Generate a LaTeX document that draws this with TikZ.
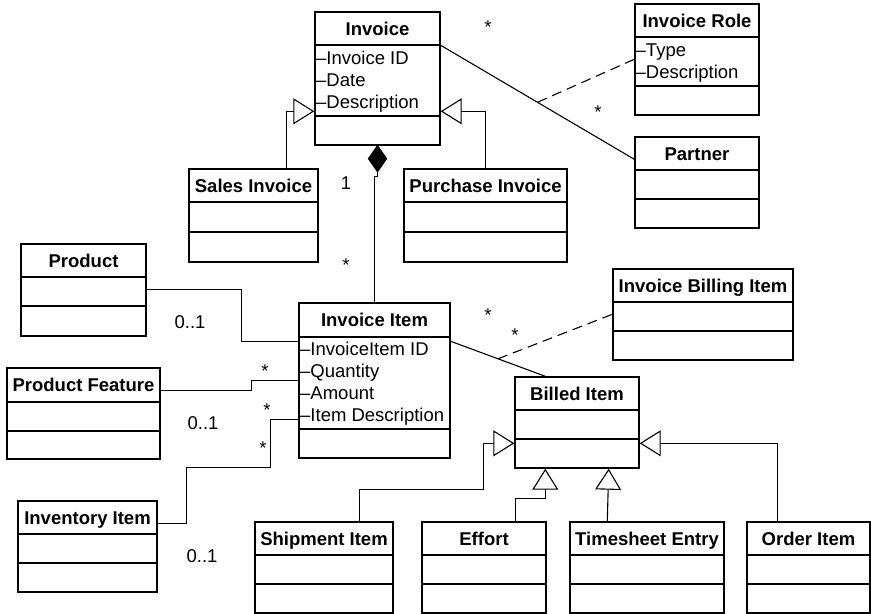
\documentclass[tikz,border=0pt]{standalone}
\usepackage{fontspec}
\setmainfont{Liberation Sans}
\usetikzlibrary{fit,arrows.meta}

\tikzset{
  classbox/.style={draw,line width=0.7pt,inner sep=0pt},
  divider/.style={line width=1pt},
  classname/.style={font=\fontsize{9.25}{11}\selectfont\bfseries,anchor=base,inner sep=0pt},
  attr/.style={anchor=base west,inner sep=0pt},
  mult/.style={inner sep=0pt},
  assoc/.style={line width=0.55pt},
  gen/.style={assoc,-{Triangle[open,length=10.5pt,width=13pt]}},
  classline/.style={assoc,dash pattern=on 5pt off 3pt}
}

\begin{document}
\begin{tikzpicture}[x=0.5pt,y=-0.5pt,font=\fontsize{9.25}{11}\selectfont]
\useasboundingbox (0,0) rectangle (871,614);

% classes: name/left/top/right/bottom/first divider/second divider/title
\foreach \nm/\xa/\ya/\xb/\yb/\da/\db/\ttl in {
  inv/315/12/440/145/45/116/Invoice,
  role/635/4/759/115/37/86/Invoice Role,
  partner/635/137/759/228/170/199/Partner,
  sales/189/169/318/262/202/232/Sales Invoice,
  purch/404/169/567/262/202/232/Purchase Invoice,
  prod/21/244/146/336/277/306/Product,
  feat/7/368/160/459/402/431/Product Feature,
  invent/18/501/157/592/534/563/Inventory Item,
  item/299/303/450/458/337/429/Invoice Item,
  billing/613/269/793/360/302/331/Invoice Billing Item,
  billed/515/377/639/468/410/439/Billed Item,
  ship/255/522/393/613/555/584/Shipment Item,
  effort/422/522/546/613/555/584/Effort,
  times/570/522/724/613/555/584/Timesheet Entry,
  order/747/522/870/613/555/584/Order Item}{
  \node[classbox,fit={(\xa,\ya) (\xb,\yb)}] (\nm) {};
  \draw[divider] (\xa,\da) -- (\xb,\da) (\xa,\db) -- (\xb,\db);
  \node[classname] (\nm-t) at ({(\xa+\xb)/2},{(\ya+\da)/2+6.6}) {\ttl};
}

% attributes
\foreach \txt [count=\i] in {Invoice ID,Date,Description}
  \path (inv.north west) ++(1.5,{53+22*(\i-1)}) node[attr] (inv-a\i) {–\txt};
\foreach \txt [count=\i] in {Type,Description}
  \path (role.north west) ++(1,{53+22*(\i-1)}) node[attr] (role-a\i) {–\txt};
\foreach \txt [count=\i] in {InvoiceItem ID,Quantity,Amount,Item Description}
  \path (item.north west) ++(1.5,{53.5+22*(\i-1)}) node[attr] (item-a\i) {–\txt};

% invoice and its roles
\path (inv.north east) ++(0,34) coordinate (inv-r);
\path (partner.north west) ++(0,23) coordinate (partner-l);
\path (role.north west) ++(0,56) coordinate (role-l);
\draw[assoc] (inv-r) -- coordinate[pos=0.5] (inv-mid) (partner-l);
\draw[classline] (inv-mid) -- (role-l);

% composition
\filldraw[assoc] (inv.south) -- ++(-9,13) -- ++(9,13) coordinate (dia) -- ++(9,-13) -- cycle;
\draw[assoc] (dia) -- ++(0,5) -| (item.north);

% invoice subtypes
\path (inv.north west) ++(0,100) coordinate (inv-w);
\path (inv.north east) ++(0,100) coordinate (inv-e);
\path (sales.north east) ++(-32,0) coordinate (sales-n);
\path (purch.north west) ++(82,0) coordinate (purch-n);
\draw[gen] (sales-n) |- (inv-w);
\draw[gen] (purch-n) |- (inv-e);

% product side
\path (prod.north east) ++(0,46) coordinate (prod-r);
\path (feat.north east) ++(0,23) coordinate (feat-r);
\path (invent.north east) ++(0,23) coordinate (invent-r);
\path (item.north west) ++(0,39) coordinate (item-l1);
\path (item.north west) ++(0,78) coordinate (item-l2);
\path (item.north west) ++(0,117) coordinate (item-l3);
\draw[assoc] (prod-r) -- ++(95,0) |- (item-l1);
\draw[assoc] (feat-r) -- ++(91,0) |- (item-l2);
\draw[assoc] (item-l3) -- ++(-28,0) -- ++(0,48) -- ++(-84,0) |- (invent-r);

% billed items
\path (item.north east) ++(0,39) coordinate (item-r);
\path (billed.north west) ++(31,0) coordinate (billed-n);
\path (billing.north west) ++(0,46) coordinate (billing-l);
\draw[assoc] (item-r) -- coordinate[pos=0.5] (item-mid) (billed-n);
\draw[classline] (item-mid) -- (billing-l);

\path (billed.north west) ++(0,67) coordinate (billed-w);
\path (billed.north east) ++(0,67) coordinate (billed-e);
\path (billed.south west) ++(31,0) coordinate (billed-s1);
\path (billed.south east) ++(-31,0) coordinate (billed-s2);
\path (ship.north east) ++(-34,0) coordinate (ship-n);
\path (effort.north west) ++(94,0) coordinate (effort-n);
\path (times.north west) ++(38,0) coordinate (times-n);
\path (order.north west) ++(31,0) coordinate (order-n);
\draw[gen] (ship-n) -- ++(0,-32) -- ++(124,0) |- (billed-w);
\draw[gen] (effort-n) -- ++(0,-23) -| (billed-s1);
\draw[gen] (times-n) -- (billed-s2);
\draw[gen] (order-n) |- (billed-e);

% multiplicities
\node[mult] (m-inv) at (488,27) {*};
\node[mult] (m-partner) at (598,112) {*};
\node[mult] (m-whole) at (346,183) {1};
\node[mult] (m-part) at (346,265) {*};
\node[mult] (m-prod) at (190,322) {0..1};
\node[mult] (m-feat) at (203,423) {0..1};
\node[mult] (m-invent) at (202,556) {0..1};
\node[mult] (m-item1) at (265,371) {*};
\node[mult] (m-item2) at (267,410) {*};
\node[mult] (m-item3) at (263,448) {*};
\node[mult] (m-bill1) at (488,315) {*};
\node[mult] (m-bill2) at (515,335) {*};
\end{tikzpicture}
\end{document}
